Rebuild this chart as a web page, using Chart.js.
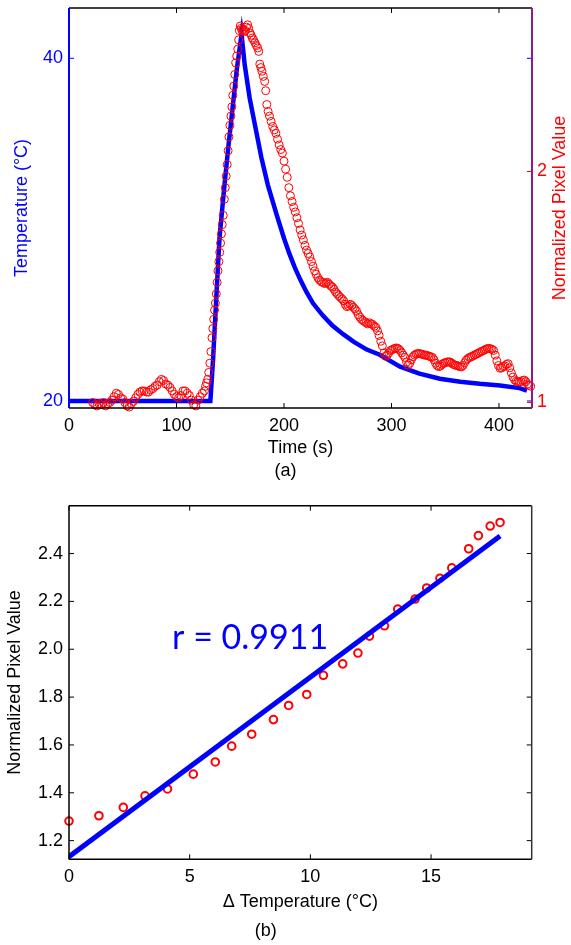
<!DOCTYPE html>
<html>
<head>
<meta charset="utf-8">
<script src="https://cdn.jsdelivr.net/npm/chart.js@4.4.0/dist/chart.umd.min.js"></script>
<style>
    body { margin: 0; background: #fff; }
    #wrap { position: relative; width: 571px; height: 945px; }
    canvas { position: absolute; left: 0; }
    #chart-time { top: 0; }
    #chart-fit { top: 490px; }
</style>
</head>
<body>
<div id="wrap">
    <canvas id="chart-time" width="571" height="490"></canvas>
    <canvas id="chart-fit" width="571" height="455"></canvas>
</div>
<script>
// (a) temperature and pixel value against time
const tempTime = [0, 131.5, 134, 137, 140, 144, 148, 152, 156, 160.5, 163.5, 168, 173, 179, 185, 193, 196,
    200, 205, 210, 215, 221, 227, 236, 245, 255, 265, 277, 289, 308, 326, 345, 364, 382, 401, 419, 426];
const tempValue = [20, 20, 22.4, 26, 29.5, 32.2, 34.7, 37, 39.3, 41.4, 39.6, 37.7, 36.1, 34.2, 32.6, 30.9, 30.3,
    29.5, 28.6, 27.8, 27.1, 26.35, 25.7, 25.0, 24.4, 23.9, 23.45, 23.0, 22.7, 22.0, 21.6, 21.3, 21.12, 21.0, 20.9, 20.75, 20.6];

const pixelTime = [
    22, 24, 26, 28, 30, 32, 34, 36, 38, 40,
    42, 44, 46, 48, 50, 52, 54, 56, 58, 60,
    62, 64, 66, 68, 70, 72, 74, 76, 78, 80,
    82, 84, 86, 88, 90, 92, 94, 96, 98, 100,
    102, 104, 106, 108, 110, 112, 114, 116, 118, 120,
    122, 124, 126, 127, 128, 129, 130, 131,
    132, 133, 133.8, 134.6, 135.4, 136.2, 137, 137.8, 138.6, 139.4,
    140.2, 141, 141.8, 142.6, 143.5, 144.5, 145.4, 146.2, 147.1, 148,
    148.8, 149.7, 150.6, 151.5, 152.4, 153.3, 154.2, 155.1, 156, 157,
    157.8, 158.5, 159.3, 160.2, 161, 162, 163, 164, 165, 166.2,
    167.2, 168.4, 169.5, 170.5, 171.7, 173, 174.3, 175.5, 176.5, 177.5,
    178.5, 179.5, 180.8, 182, 183, 184, 185.2, 186.5, 188, 189.5,
    191, 192.5, 194, 195.5, 197, 198.5, 200, 201.5, 203, 204.5,
    206, 207.5, 209, 210.5, 212, 213.5, 215, 216.5, 218, 219.5,
    221, 222.5, 224, 225.5, 227, 228.5, 230, 231.5, 233, 234.5,
    236, 237.5, 239, 240.5, 242, 243.5, 245, 246.5, 248, 249.5,
    251, 252.5, 254, 255.5, 257, 258.5, 260, 261.5, 263, 264.5,
    266, 267.5, 269, 270.5, 272, 273.5, 275, 276.5, 278, 279.5,
    281, 282.5, 284, 285.5, 287, 288.5, 290, 291.5, 293, 294.5,
    296, 297.5, 299, 300.5, 302, 303.5, 305, 306.5, 308, 309.5,
    311, 312.5, 314, 315.5, 317, 318.5, 320, 321.5, 323, 324.5,
    326, 327.5, 329, 330.5, 332, 333.5, 335, 336.5, 338, 339.5,
    341, 342.5, 344, 345.5, 347, 348.5, 350, 351.5, 353, 354.5,
    356, 357.5, 359, 360.5, 362, 363.5, 365, 366.5, 368, 369.5,
    371, 372.5, 374, 375.5, 377, 378.5, 380, 381.5, 383, 384.5,
    386, 387.5, 389, 390.5, 392, 393.5, 395, 396.5, 398, 399.5,
    401, 402.5, 404, 405.5, 407, 408.5, 410, 411.5, 413, 414.5,
    416, 417.5, 419, 420.5, 422, 423.5, 425, 426.5, 428, 429.5
];
const pixelValue = [
    1.00, 0.99, 0.985, 0.995, 0.99, 1.00, 0.985, 0.995, 1.00, 1.01,
    1.025, 1.04, 1.035, 1.02, 1.015, 1.00, 0.985, 0.98, 0.995, 1.005,
    1.02, 1.035, 1.045, 1.05, 1.05, 1.045, 1.045, 1.055, 1.06, 1.07,
    1.075, 1.09, 1.10, 1.095, 1.08, 1.075, 1.065, 1.05, 1.035, 1.025,
    1.02, 1.03, 1.05, 1.05, 1.04, 1.03, 1.01, 0.99, 0.985, 1.01,
    1.025, 1.04, 1.05, 1.07, 1.085, 1.10, 1.13, 1.17,
    1.22, 1.28, 1.32, 1.36, 1.40, 1.43, 1.47, 1.52, 1.57, 1.61,
    1.65, 1.69, 1.73, 1.77, 1.81, 1.88, 1.93, 1.98, 2.03, 2.09,
    2.15, 2.20, 2.24, 2.28, 2.33, 2.37, 2.42, 2.47, 2.50, 2.53,
    2.57, 2.61, 2.63, 2.62, 2.61, 2.615, 2.605, 2.61, 2.625, 2.635,
    2.62, 2.60, 2.59, 2.578, 2.57, 2.557, 2.545, 2.535, 2.52, 2.465,
    2.45, 2.434, 2.412, 2.39, 2.35, 2.29, 2.26, 2.24, 2.217, 2.195,
    2.18, 2.165, 2.14, 2.115, 2.095, 2.08, 2.045, 2.01, 1.975, 1.93,
    1.895, 1.87, 1.845, 1.825, 1.80, 1.775, 1.747, 1.725, 1.704, 1.68,
    1.66, 1.645, 1.63, 1.61, 1.59, 1.57, 1.555, 1.54, 1.53, 1.523,
    1.52, 1.515, 1.518, 1.52, 1.512, 1.505, 1.50, 1.49, 1.478, 1.47,
    1.462, 1.455, 1.448, 1.44, 1.425, 1.415, 1.418, 1.425, 1.42, 1.412,
    1.405, 1.395, 1.38, 1.37, 1.36, 1.355, 1.35, 1.345, 1.34, 1.345,
    1.34, 1.338, 1.33, 1.325, 1.31, 1.29, 1.265, 1.245, 1.215, 1.20,
    1.205, 1.215, 1.225, 1.228, 1.232, 1.235, 1.236, 1.232, 1.225, 1.215,
    1.205, 1.195, 1.175, 1.162, 1.17, 1.185, 1.198, 1.205, 1.21, 1.212,
    1.212, 1.21, 1.208, 1.205, 1.205, 1.203, 1.20, 1.198, 1.195, 1.185,
    1.17, 1.16, 1.155, 1.158, 1.165, 1.17, 1.172, 1.175, 1.176, 1.175,
    1.17, 1.165, 1.162, 1.16, 1.158, 1.155, 1.154, 1.16, 1.172, 1.183,
    1.19, 1.195, 1.198, 1.20, 1.205, 1.208, 1.212, 1.215, 1.22, 1.222,
    1.226, 1.23, 1.233, 1.234, 1.233, 1.23, 1.225, 1.205, 1.18, 1.16,
    1.148, 1.15, 1.155, 1.158, 1.165, 1.168, 1.15, 1.128, 1.11, 1.098,
    1.092, 1.09, 1.088, 1.09, 1.095, 1.097, 1.09, 1.08, 1.075, 1.07
];

const timeTicks = [0, 100, 200, 300, 400];
const tempTicks = [20, 40];
const pixelTicks = [1, 2];

// (b) pixel value against temperature rise
const deltaTemp = [0, 1.24, 2.25, 3.15, 4.08, 5.15, 6.06, 6.74, 7.57, 8.47,
    9.1, 9.85, 10.54, 11.34, 11.97, 12.45, 13.07, 13.62, 14.34, 14.82,
    15.37, 15.86, 16.56, 16.96, 17.45, 17.86];
const meanPixel = [1.282, 1.304, 1.339, 1.387, 1.416, 1.478, 1.529, 1.595, 1.645, 1.706,
    1.765, 1.811, 1.891, 1.939, 1.984, 2.055, 2.098, 2.168, 2.21, 2.256,
    2.297, 2.34, 2.42, 2.475, 2.515, 2.53];
const fitTemp = [0, 17.86];
const fitPixel = [1.133, 2.473];

const deltaTicks = [0, 5, 10, 15];
const meanTicks = [1.2, 1.4, 1.6, 1.8, 2, 2.2, 2.4];
const correlationText = 'r = 0.9911';

const BLUE = '#0000ff';
const RED = '#ff0000';
const PURPLE = '#8e1a8e';
const FONT = "'Liberation Sans', Arial, sans-serif";

Chart.defaults.font.family = FONT;
Chart.defaults.font.size = 18;
Chart.defaults.color = '#000';

function toPoints(xs, ys) {
    return xs.map((x, i) => ({ x: x, y: ys[i] }));
}

function fixedTicks(values) {
    return function (scale) {
        scale.ticks = values.map(v => ({ value: v }));
    };
}

// fix the box size and drop the label overhang padding so the plot area lands where wanted
function fixSize(key, size) {
    return function (scale) {
        scale[key] = size;
        scale.paddingTop = 0;
        scale.paddingBottom = 0;
        scale.paddingLeft = 0;
        scale.paddingRight = 0;
    };
}

function drawTickMarks(ctx, scale, area, color, sides) {
    const len = 5;
    ctx.strokeStyle = color;
    ctx.lineWidth = 1;
    ctx.beginPath();
    scale.ticks.forEach(function (t) {
        const p = scale.getPixelForValue(t.value);
        sides.forEach(function (side) {
            if (side === 'bottom') { ctx.moveTo(p, area.bottom); ctx.lineTo(p, area.bottom - len); }
            if (side === 'top') { ctx.moveTo(p, area.top); ctx.lineTo(p, area.top + len); }
            if (side === 'left') { ctx.moveTo(area.left, p); ctx.lineTo(area.left + len, p); }
            if (side === 'right') { ctx.moveTo(area.right, p); ctx.lineTo(area.right - len, p); }
        });
    });
    ctx.stroke();
}

function drawFrame(ctx, area, colors, sideWidth) {
    const edges = [
        [colors.top, 1.5, area.left, area.top, area.right, area.top],
        [colors.bottom, 1.5, area.left, area.bottom, area.right, area.bottom],
        [colors.left, sideWidth, area.left, area.top, area.left, area.bottom],
        [colors.right, sideWidth, area.right, area.top, area.right, area.bottom]
    ];
    edges.forEach(function (e) {
        ctx.strokeStyle = e[0];
        ctx.lineWidth = e[1];
        ctx.beginPath();
        ctx.moveTo(e[2], e[3]);
        ctx.lineTo(e[4], e[5]);
        ctx.stroke();
    });
}

const frameTime = {
    id: 'frameTime',
    afterDraw(chart) {
        const ctx = chart.ctx;
        const area = chart.chartArea;
        ctx.save();
        drawTickMarks(ctx, chart.scales.x, area, '#000', ['bottom', 'top']);
        drawTickMarks(ctx, chart.scales.y, area, BLUE, ['left', 'right']);
        drawTickMarks(ctx, chart.scales.y1, area, RED, ['right']);
        drawFrame(ctx, area, { top: '#000', bottom: '#000', left: BLUE, right: PURPLE }, 2);

        // right axis title reads bottom to top like the left one
        ctx.translate(560, (area.top + area.bottom) / 2);
        ctx.rotate(-Math.PI / 2);
        ctx.fillStyle = RED;
        ctx.font = '18px ' + FONT;
        ctx.textAlign = 'center';
        ctx.textBaseline = 'middle';
        ctx.fillText('Normalized Pixel Value', 0, 0);
        ctx.restore();
    }
};

const frameFit = {
    id: 'frameFit',
    afterDraw(chart) {
        const ctx = chart.ctx;
        const area = chart.chartArea;
        ctx.save();
        drawTickMarks(ctx, chart.scales.x, area, '#000', ['bottom', 'top']);
        drawTickMarks(ctx, chart.scales.y, area, '#000', ['left', 'right']);
        drawFrame(ctx, area, { top: '#000', bottom: '#000', left: '#000', right: '#333' }, 1.5);

        ctx.fillStyle = BLUE;
        ctx.font = "34px Lato, 'Open Sans', sans-serif";
        ctx.textAlign = 'left';
        ctx.textBaseline = 'alphabetic';
        ctx.fillText(correlationText, chart.scales.x.getPixelForValue(4.27), chart.scales.y.getPixelForValue(2.0));
        ctx.restore();
    }
};

function plainScale(extra) {
    return Object.assign({
        type: 'linear',
        grid: { display: false, drawTicks: false },
        border: { display: false }
    }, extra);
}

const chartTime = new Chart(document.getElementById('chart-time'), {
    type: 'scatter',
    data: {
        datasets: [{
            label: 'Normalized Pixel Value',
            data: toPoints(pixelTime, pixelValue),
            yAxisID: 'y1',
            pointStyle: 'circle',
            pointRadius: 4,
            borderWidth: 1,
            pointBorderWidth: 1,
            borderColor: RED,
            backgroundColor: 'rgba(0,0,0,0)',
            clip: false,
            order: 0
        }, {
            label: 'Temperature',
            data: toPoints(tempTime, tempValue),
            yAxisID: 'y',
            showLine: true,
            borderColor: BLUE,
            borderWidth: 4.5,
            pointRadius: 0,
            pointHitRadius: 0,
            order: 1
        }]
    },
    options: {
        responsive: false,
        animation: false,
        devicePixelRatio: 1,
        layout: { padding: { top: 8, left: 0, right: 0, bottom: 0 } },
        scales: {
            x: plainScale({
                position: 'bottom',
                min: 0,
                max: 430.7,
                afterBuildTicks: fixedTicks(timeTicks),
                afterFit: fixSize('height', 50.4),
                ticks: { color: '#000', padding: 7, maxRotation: 0 },
                title: { display: true, text: 'Time (s)', color: '#000', padding: { top: 0, bottom: 0 } }
            }),
            y: plainScale({
                position: 'left',
                min: 19.59,
                max: 42.935,
                afterBuildTicks: fixedTicks(tempTicks),
                afterFit: fixSize('width', 69),
                ticks: { color: BLUE, padding: 6 },
                title: { display: true, text: 'Temperature (°C)', color: BLUE, padding: { top: 11, bottom: 0 } }
            }),
            y1: plainScale({
                position: 'right',
                min: 0.976,
                max: 2.708,
                afterBuildTicks: fixedTicks(pixelTicks),
                afterFit: fixSize('width', 39),
                ticks: { color: RED, padding: 5 }
            })
        },
        plugins: {
            legend: { display: false },
            tooltip: { enabled: false },
            title: {
                display: true,
                position: 'bottom',
                text: '(a)',
                color: '#000',
                font: { size: 18, weight: 'normal' },
                padding: { top: 2, bottom: 8 }
            }
        }
    },
    plugins: [frameTime]
});

const chartFit = new Chart(document.getElementById('chart-fit'), {
    type: 'scatter',
    data: {
        datasets: [{
            label: 'Fit',
            data: toPoints(fitTemp, fitPixel),
            showLine: true,
            borderColor: BLUE,
            borderWidth: 5,
            pointRadius: 0,
            pointHitRadius: 0,
            order: 0
        }, {
            label: 'Normalized Pixel Value',
            data: toPoints(deltaTemp, meanPixel),
            pointStyle: 'circle',
            pointRadius: 3.8,
            borderWidth: 2,
            pointBorderWidth: 2,
            borderColor: RED,
            backgroundColor: 'rgba(0,0,0,0)',
            clip: false,
            order: 1
        }]
    },
    options: {
        responsive: false,
        animation: false,
        devicePixelRatio: 1,
        layout: { padding: { top: 15.7, left: 0, right: 39.3, bottom: 0 } },
        scales: {
            x: plainScale({
                position: 'bottom',
                min: 0,
                max: 19.17,
                afterBuildTicks: fixedTicks(deltaTicks),
                afterFit: fixSize('height', 59.1),
                ticks: { color: '#000', padding: 7, maxRotation: 0 },
                title: { display: true, text: 'Δ Temperature (°C)', color: '#000', padding: { top: 0, bottom: 6 } }
            }),
            y: plainScale({
                position: 'left',
                min: 1.122,
                max: 2.6,
                afterBuildTicks: fixedTicks(meanTicks),
                afterFit: fixSize('width', 69),
                ticks: { color: '#000', padding: 6 },
                title: { display: true, text: 'Normalized Pixel Value', color: '#000', padding: { top: 4, bottom: 0 } }
            })
        },
        plugins: {
            legend: { display: false },
            tooltip: { enabled: false },
            title: {
                display: true,
                position: 'bottom',
                text: '(b)',
                color: '#000',
                font: { size: 18, weight: 'normal' },
                padding: { top: 2, bottom: 3 }
            }
        }
    },
    plugins: [frameFit]
});
</script>
</body>
</html>
